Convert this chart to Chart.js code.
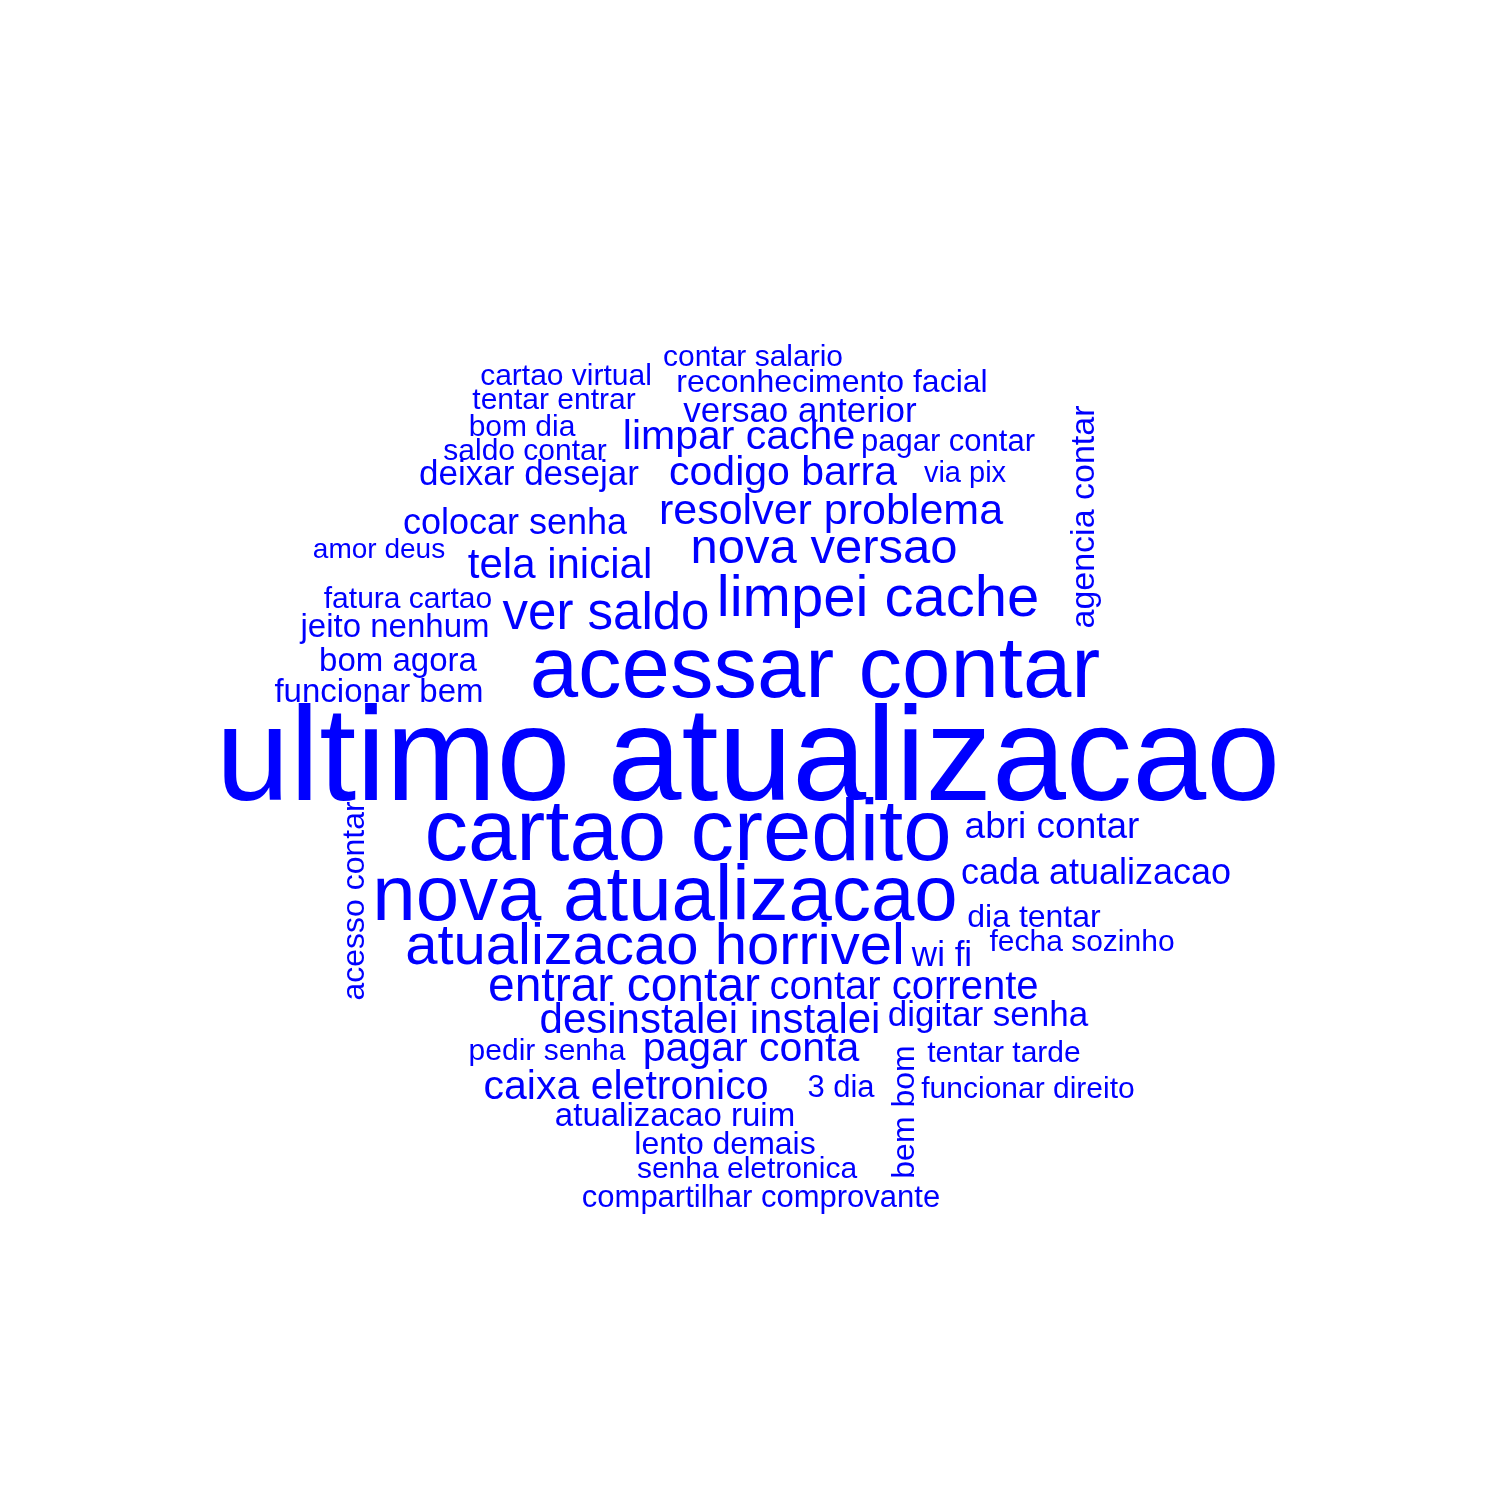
<!DOCTYPE html>
<html>
<head>
<meta charset="utf-8">
<script src="https://cdn.jsdelivr.net/npm/chart.js@4"></script>
<style>
html,body{margin:0;padding:0;background:#fff;}
#wrap{width:1500px;height:1500px;}
</style>
</head>
<body>
<div id="wrap"><canvas id="chart"></canvas></div>
<script>
'use strict';
// word cloud terms, relative size (px), placement on a 0..1500 grid, rotation
const words = ["ultimo atualizacao","acessar contar","cartao credito","nova atualizacao","limpei cache",
  "atualizacao horrivel","ver saldo","nova versao","entrar contar","tela inicial","resolver problema",
  "codigo barra","limpar cache","desinstalei instalei","pagar conta","caixa eletronico","contar corrente",
  "abri contar","cada atualizacao","versao anterior","colocar senha","deixar desejar","digitar senha",
  "wi fi","bom agora","funcionar bem","jeito nenhum","atualizacao ruim","lento demais",
  "reconhecimento facial","dia tentar","pagar contar","3 dia","tentar tarde","funcionar direito",
  "fecha sozinho","senha eletronica","compartilhar comprovante","pedir senha","fatura cartao",
  "contar salario","cartao virtual","tentar entrar","bom dia","saldo contar","via pix","amor deus",
  "agencia contar","acesso contar","bem bom"];
const sizes = [133,87,87,78,58,58,51,49,48,42,43,41,41,42,41,41,40,37,36,35,36,35,35,35,33,33,33,33,32,
  32,32,31,31,30,30,30,30,31,30,30,30,30,30,30,30,29,28,34,32,32];
const xs = [748,815,688,665,878,655,606,824,624,560,831,783,739,710,751,626,904,1052,1096,800,515,529,988,
  942,398,379,395,675,725,832,1034,948,841,1004,1028,1082,747,761,547,408,753,566,554,522,525,965,379,
  1085,355,905];
const ys = [763,673,836,898,600,948,615,549,988,566,512,474,438,1021,1050,1088,988,828,874,412,524,475,1016,
  956,662,693,628,1117,1145,383,918,442,1088,1054,1090,943,1170,1198,1052,600,358,377,401,428,452,474,550,
  517,901,1112];
const rotations = new Array(words.length).fill(0);
rotations[47] = -90; rotations[48] = -90; rotations[49] = -90;

const wordPlugin = {
  id: "words",
  afterDatasetsDraw(chart) {
    const ctx = chart.ctx, sx = chart.scales.x, sy = chart.scales.y;
    ctx.save();
    ctx.fillStyle = "#0000FF";
    ctx.textAlign = "center";
    ctx.textBaseline = "middle";
    for (let i = 0; i < words.length; i++) {
      ctx.save();
      ctx.translate(sx.getPixelForValue(xs[i]), sy.getPixelForValue(ys[i]));
      ctx.rotate(rotations[i] * Math.PI / 180);
      ctx.font = sizes[i] + "px 'Liberation Sans', Arial, sans-serif";
      ctx.fillText(words[i], 0, 0);
      ctx.restore();
    }
    ctx.restore();
  }
};

new Chart(document.getElementById("chart"), {
  type: "scatter",
  data: { datasets: [{ data: xs.map((x, i) => ({x: x, y: ys[i]})), pointRadius: 0 }] },
  options: {
    responsive: true, maintainAspectRatio: false, animation: false,
    layout: { padding: 0 },
    plugins: { legend: { display: false }, tooltip: { enabled: false } },
    scales: {
      x: { type: "linear", min: 0, max: 1500, display: false },
      y: { type: "linear", min: 0, max: 1500, reverse: true, display: false }
    }
  },
  plugins: [wordPlugin]
});
</script>
</body>
</html>
